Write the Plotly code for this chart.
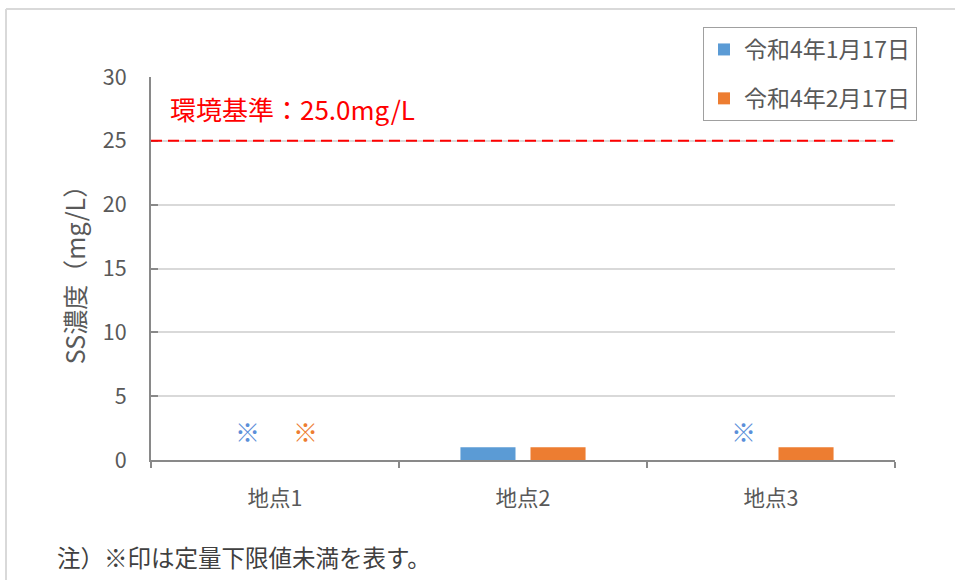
import plotly.graph_objects as go

# Sampling sites and measured SS concentration (mg/L); None = below the quantitation limit
sites = ["地点1", "地点2", "地点3"]
series_names = ["令和4年1月17日", "令和4年2月17日"]
ss_jan = [None, 1.0, None]
ss_feb = [None, 1.0, 1.0]
series_values = [ss_jan, ss_feb]
series_colors = ["#5B9BD5", "#ED7D31"]
mark_colors = ["#5B8FD9", "#ED7D31"]

standard_value = 25.0
standard_label = "環境基準：25.0mg/L"
y_ticks = [0, 5, 10, 15, 20, 25, 30]
y_title = "SS濃度（mg/L）"
note_text = "注）※印は定量下限値未満を表す。"

FONT = "Noto Sans CJK JP, Noto Sans, sans-serif"
GRAY = "#595959"
AXIS = "#898989"

W, H = 955, 580
L, R, T, B = 151, 60, 77, 120
PW, PH = W - L - R, H - T - B


def px_x(px):
    return (px - L) / PW


def px_y(py):
    return (H - B - py) / PH


fig = go.Figure()
for i, (name, vals) in enumerate(zip(series_names, series_values)):
    fig.add_trace(go.Bar(
        x=sites, y=vals, name=name,
        marker=dict(color=series_colors[i], line=dict(width=0)),
        legendgroup=f"g{i}",
    ))

# "※" marks where a value is below the quantitation limit
shifts = [-28, 30]
for i, vals in enumerate(series_values):
    for j, v in enumerate(vals):
        if v is None:
            fig.add_annotation(
                x=j, y=2.25, xref="x", yref="y", text="※", showarrow=False,
                xshift=shifts[i], yanchor="middle",
                font=dict(family=FONT, size=25, color=mark_colors[i]),
            )

# Environmental standard line and its label
fig.add_shape(type="line", xref="paper", yref="y", x0=0, x1=1,
              y0=standard_value, y1=standard_value,
              line=dict(color="#FF0000", width=2, dash="11px,6px"))
fig.add_annotation(x=px_x(168), y=standard_value, xref="paper", yref="y",
                   text=standard_label, showarrow=False, xanchor="left",
                   yanchor="bottom", yshift=12,
                   font=dict(family=FONT, size=26, color="#FF0000"))

# Note under the chart
fig.add_annotation(x=px_x(55), y=px_y(557), xref="paper", yref="paper",
                   text=note_text, showarrow=False, xanchor="left",
                   yanchor="middle",
                   font=dict(family=FONT, size=23.5, color="#404040"))

# Outer chart frame (top and left edges)
fig.add_shape(type="line", xref="paper", yref="paper",
              x0=px_x(6), x1=px_x(W + 10), y0=px_y(9), y1=px_y(9),
              line=dict(color="#D9D9D9", width=2))
fig.add_shape(type="line", xref="paper", yref="paper",
              x0=px_x(6), x1=px_x(6), y0=px_y(9), y1=px_y(H + 10),
              line=dict(color="#D9D9D9", width=2))

fig.update_layout(
    width=W, height=H,
    margin=dict(l=L, r=R, t=T, b=B),
    paper_bgcolor="white", plot_bgcolor="white",
    barmode="group", bargap=0.435, bargroupgap=0.214,
    font=dict(family=FONT, size=22, color=GRAY),
    legend=dict(
        x=px_x(703), y=px_y(27), xanchor="left", yanchor="top",
        bgcolor="white", bordercolor="#A0A0A0", borderwidth=1,
        font=dict(family=FONT, size=23, color=GRAY),
        tracegroupgap=16, itemwidth=30,
    ),
    showlegend=True,
)
fig.update_xaxes(
    type="category", showline=True, linecolor=AXIS, linewidth=2,
    ticks="outside", ticklen=6, tickcolor=AXIS, tickwidth=2,
    tickson="boundaries", showgrid=False, ticklabelstandoff=18,
    tickfont=dict(family=FONT, size=21.5, color=GRAY),
)
fig.update_yaxes(
    range=[0, 30], tickvals=y_ticks, showline=True, linecolor=AXIS,
    linewidth=2, ticks="inside", ticklen=7, tickcolor=AXIS, tickwidth=2,
    showgrid=True, gridcolor="#D9D9D9", gridwidth=2, zeroline=False,
    ticklabelstandoff=18,
    tickfont=dict(family=FONT, size=21.5, color=GRAY),
    title=dict(text=y_title, standoff=10,
               font=dict(family=FONT, size=25, color=GRAY)),
)

fig.write_html("out.html")
